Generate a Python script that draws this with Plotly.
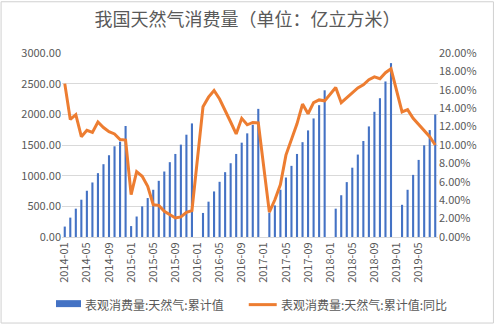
import plotly.graph_objects as go

# ---- data ----
months = [f"{y}-{m:02d}" for y in range(2014, 2020) for m in range(1, 13)][:68]

consumption = [
    170, 316, 462, 608, 754, 889, 1041, 1187, 1333, 1479, 1555, 1810,          # 2014
    178, 334, 500, 635, 770, 916, 1068, 1220, 1354, 1506, 1668, 1852,          # 2015
    None, 392, 576, 743, 900, 1057, 1203, 1354, 1538, 1690, 1830, 2089,        # 2016
    None, 398, 515, 770, 970, 1160, 1354, 1546, 1738, 1933, 2149, 2392,        # 2017
    None, 462, 681, 895, 1130, 1344, 1565, 1803, 2041, 2263, 2536, 2835,       # 2018
    None, 525, 770, 1013, 1257, 1495, 1743, 1998,                              # 2019
]

yoy = [
    16.67, 12.78, 13.3, 10.9, 11.6, 11.37, 12.5, 11.9, 11.44, 11.2, 10.6, 10.54,
    4.6, 7.1, 6.6, 5.5, 3.5, 3.44, 2.8, 2.43, 2.07, 2.18, 2.68, 2.86,
    None, 14.15, 15.2, 15.92, 15.0, 13.8, 12.5, 11.2, 12.9, 12.2, 12.45, 12.4,
    None, 2.7, 4.05, 5.7, 8.9, 10.5, 12.3, 14.45, 13.4, 14.6, 14.9, 14.8,
    None, 16.25, 14.6, 15.1, 15.7, 16.2, 16.55, 17.1, 17.4, 17.2, 17.86, 18.28,
    None, 13.6, 13.85, 12.9, 12.2, 11.55, 10.9, 10.0,
]

tick_labels = months[::4]

title_text = "我国天然气消费量（单位：亿立方米）"
bar_name = "表观消费量:天然气:累计值"
line_name = "表观消费量:天然气:累计值:同比"

BLUE = "#4472C4"
ORANGE = "#ED7D31"
GRID = "#D9D9D9"
TXT = "#595959"
FONT = "Noto Sans CJK SC"

fig = go.Figure()
fig.add_trace(go.Bar(x=months, y=consumption, name=bar_name,
                     marker=dict(color=BLUE, line=dict(width=0)), yaxis="y"))
fig.add_trace(go.Scatter(x=months, y=yoy, name=line_name, mode="lines",
                         line=dict(color=ORANGE, width=3), connectgaps=True,
                         yaxis="y2"))

W, H = 495, 325
L, R, T, B = 62, 56.5, 52.5, 87.5
pw, ph = W - L - R, H - T - B

def px(xp):
    return (xp - L) / pw

def py(yp):
    return (H - B - yp) / ph

fig.update_layout(
    width=W, height=H,
    margin=dict(l=L, r=R, t=T, b=B, pad=0),
    paper_bgcolor="white", plot_bgcolor="white",
    showlegend=False,
    bargap=0.62,
    font=dict(family=FONT, color=TXT, size=11),
    title=dict(text=title_text, x=0.5, xanchor="center",
               y=1 - 20 / H, yanchor="middle", yref="container",
               font=dict(size=18, color=TXT, family=FONT)),
    xaxis=dict(type="category", categoryorder="array", categoryarray=months,
               tickmode="array", tickvals=tick_labels, ticktext=tick_labels,
               tickangle=-90, showgrid=False, showline=True, linecolor=GRID,
               ticks="", tickfont=dict(size=11, color=TXT), range=[-0.5, 67.5]),
    yaxis=dict(range=[0, 3000], dtick=500, tickformat=".2f", showgrid=True,
               gridcolor=GRID, zeroline=False, showline=False,
               tickfont=dict(size=11, color=TXT), ticks="", ticklen=0),
    yaxis2=dict(range=[0, 20], dtick=2, tickformat=".2f", ticksuffix="%",
                overlaying="y", side="right", showgrid=False, zeroline=False,
                showline=False, tickfont=dict(size=11, color=TXT)),
)

# chart border
fig.add_shape(type="rect", xref="paper", yref="paper",
              x0=px(1), x1=px(494), y0=py(324), y1=py(1),
              line=dict(color="#D0D0D0", width=1), fillcolor="rgba(0,0,0,0)")

# manual legend
fig.add_shape(type="rect", xref="paper", yref="paper",
              x0=px(56), x1=px(81), y0=py(308), y1=py(301),
              fillcolor=BLUE, line=dict(width=0))
fig.add_annotation(xref="paper", yref="paper", x=px(83), y=py(305),
                   xanchor="left", yanchor="middle", showarrow=False,
                   text=bar_name, font=dict(size=12, color=TXT, family=FONT))
fig.add_shape(type="line", xref="paper", yref="paper",
              x0=px(249), x1=px(277), y0=py(305.5), y1=py(305.5),
              line=dict(color=ORANGE, width=3))
fig.add_annotation(xref="paper", yref="paper", x=px(279), y=py(305),
                   xanchor="left", yanchor="middle", showarrow=False,
                   text=line_name, font=dict(size=12, color=TXT, family=FONT))

fig.write_html("out.html")
